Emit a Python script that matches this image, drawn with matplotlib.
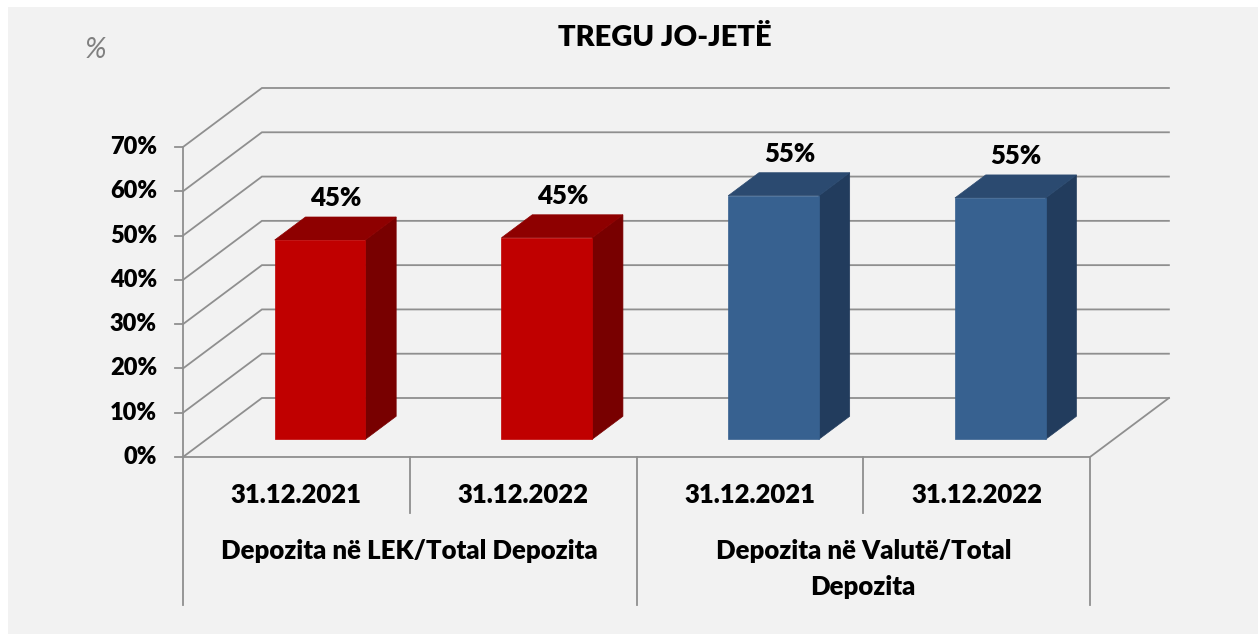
import matplotlib as mpl

mpl.use("Agg")
import matplotlib.pyplot as plt  # noqa: E402
from matplotlib.patches import Polygon, Rectangle  # noqa: E402

plt.rcParams["font.family"] = ["Lato", "DejaVu Sans"]

# data
dates = ["31.12.2021", "31.12.2022", "31.12.2021", "31.12.2022"]
groups = ["Depozita në LEK/Total Depozita", "Depozita në Valutë/Total\nDepozita"]
values = [45.0, 45.5, 55.0, 54.5]
value_labels = ["45%", "45%", "55%", "55%"]
yticks = [0, 10, 20, 30, 40, 50, 60, 70]

FRONT = ["#c00000", "#c00000", "#376190", "#376190"]
TOP = ["#8e0000", "#8e0000", "#2b4a70", "#2b4a70"]
SIDE = ["#780000", "#780000", "#223c5d", "#223c5d"]
GRID = "#8f8f8f"
BG = "#f2f2f2"
WEIGHT = "heavy"

# fake 3d: depth d in [0, 1] shifts points right and up
DX = 0.348
DY = 13.32
BAR_W = 0.40
D0, D1 = 0.30, 0.69


def proj(x, y, d):
    return (x + DX * d, y + DY * d)


fig = plt.figure(figsize=(12.58, 6.34), dpi=100, facecolor="white")
fig.patches.append(Rectangle((8 / 1258, 0), 1, 1 - 7 / 634, transform=fig.transFigure,
                             facecolor=BG, edgecolor="none", zorder=-10))
ax = fig.add_axes([0, 0, 1, 1])
ax.set_axis_off()
ax.set_xlim(-1.3071, 4.2409)
ax.set_ylim(-39.97, 103.19)

n = len(values)
x0, x1 = -0.5, n - 0.5
ymax = yticks[-1]

# walls: gridlines on side wall + back wall
for t in yticks:
    a, b, c = proj(x0, t, 0), proj(x0, t, 1), proj(x1, t, 1)
    ax.plot([a[0], b[0], c[0]], [a[1], b[1], c[1]], color=GRID, lw=1.3,
            solid_joinstyle="miter", zorder=1)
    ax.plot([x0 - 0.036, x0], [t, t], color=GRID, lw=1.3, zorder=1)
    ax.text(x0 - 0.115, t, f"{t}%", ha="right", va="center", fontsize=17,
            fontweight=WEIGHT, color="black")

# floor front edge and right edge
fr = proj(x1, 0, 1)
ax.plot([x0, x1, fr[0]], [0, 0, fr[1]], color=GRID, lw=1.3, zorder=1)
# vertical axis
ax.plot([x0, x0], [0, ymax], color=GRID, lw=1.3, zorder=1)

# category dividers below the floor
for k in range(n + 1):
    xb = x0 + k
    low = -33.4 if k % 2 == 0 else -12.65
    ax.plot([xb, xb], [0, low], color=GRID, lw=1.3, zorder=1)

for i, lab in enumerate(dates):
    ax.text(i, -8.6, lab, ha="center", va="center", fontsize=18.5,
            fontweight=WEIGHT)
for g, lab in enumerate(groups):
    ax.text(2 * g + 0.5, -18.6, lab, ha="center", va="top", fontsize=18.5,
            fontweight=WEIGHT, linespacing=1.6)

# bars
for i, v in enumerate(values):
    l, r = i - BAR_W / 2, i + BAR_W / 2
    front = [proj(l, 0, D0), proj(r, 0, D0), proj(r, v, D0), proj(l, v, D0)]
    top = [proj(l, v, D0), proj(r, v, D0), proj(r, v, D1), proj(l, v, D1)]
    side = [proj(r, 0, D0), proj(r, 0, D1), proj(r, v, D1), proj(r, v, D0)]
    for pts, col in ((side, SIDE[i]), (top, TOP[i]), (front, FRONT[i])):
        ax.add_patch(Polygon(pts, closed=True, facecolor=col, edgecolor=col,
                             lw=0.5, zorder=3))
    lx, ly = proj(i, v, 0.5)
    ax.text(lx, ly + 0.19 * DY + 4.3, value_labels[i], ha="center", va="center",
            fontsize=18.5, fontweight=WEIGHT, zorder=4)

fig.text(665 / 1258, 1 - 38 / 634, "TREGU JO-JETË", ha="center", va="center",
         fontsize=21, fontweight=WEIGHT)
fig.text(95 / 1258, 1 - 50 / 634, "%", ha="center", va="center", fontsize=21,
         fontstyle="italic", color="#808080")

fig.savefig("out.png", dpi=100, facecolor=fig.get_facecolor())
